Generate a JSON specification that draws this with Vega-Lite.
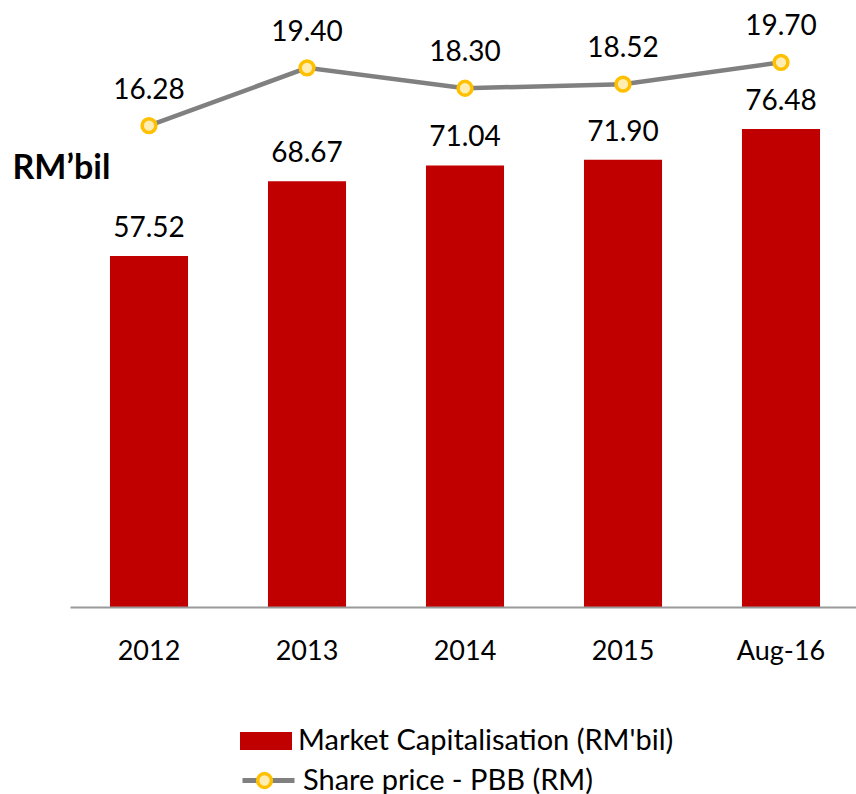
{
  "$schema": "https://vega.github.io/schema/vega-lite/v6.json",
  "width": 790,
  "height": 607,
  "autosize": {"type": "none"},
  "padding": {"left": 70, "top": 0, "right": 0, "bottom": 187},
  "background": "white",
  "config": {
    "view": {"stroke": null},
    "font": "Lato",
    "legend": {"labelFont": "Lato", "labelFontSize": 29, "labelColor": "#000000", "padding": 0, "labelOffset": 6, "titlePadding": 0, "labelLimit": 0}
  },
  "data": {
    "values": [
      {"period": "2012", "cap": 57.52, "price": 16.28},
      {"period": "2013", "cap": 68.67, "price": 19.40},
      {"period": "2014", "cap": 71.04, "price": 18.30},
      {"period": "2015", "cap": 71.90, "price": 18.52},
      {"period": "Aug-16", "cap": 76.48, "price": 19.70}
    ]
  },
  "encoding": {
    "x": {
      "field": "period",
      "type": "ordinal",
      "sort": null,
      "scale": {"paddingInner": 0.506, "paddingOuter": 0.253},
      "axis": {
        "title": null,
        "labelAngle": 0,
        "labelFont": "Lato",
        "labelFontSize": 27,
        "labelColor": "#000000",
        "labelBaseline": "alphabetic",
        "labelPadding": 52,
        "ticks": false,
        "tickSize": 0,
        "domainColor": "#999999",
        "domainWidth": 2,
        "grid": false,
        "zindex": 1
      }
    }
  },
  "layer": [
    {
      "mark": {"type": "bar", "clip": true},
      "encoding": {
        "y": {
          "field": "cap",
          "type": "quantitative",
          "scale": {"domain": [5.12, 95.74], "zero": false, "nice": false},
          "axis": {
            "orient": "left",
            "domain": false,
            "ticks": false,
            "labels": false,
            "grid": false,
            "title": "RM’bil",
            "titleAngle": 0,
            "titleAlign": "left",
            "titleBaseline": "alphabetic",
            "titleX": -58,
            "titleY": 178,
            "titleFont": "Lato",
            "titleFontSize": 34,
            "titleFontWeight": "bold",
            "titleColor": "#000000"
          }
        },
        "color": {
          "datum": "Market Capitalisation (RM'bil)",
          "scale": {"range": ["#C00000"]},
          "legend": {
            "orient": "none",
            "legendX": 170,
            "legendY": 715,
            "title": null,
            "symbolType": "M-1,-0.35H1V0.35H-1Z",
            "symbolSize": 2704,
            "symbolStrokeWidth": 0,
            "symbolOpacity": 1
          }
        }
      }
    },
    {
      "mark": {"type": "text", "dy": -19, "baseline": "alphabetic", "fontSize": 28, "color": "#000000", "font": "Lato"},
      "encoding": {
        "y": {
          "field": "cap",
          "type": "quantitative",
          "scale": {"domain": [5.12, 95.74], "zero": false, "nice": false},
          "axis": null
        },
        "text": {"field": "cap", "type": "quantitative", "format": ".2f"}
      }
    },
    {
      "mark": {"type": "line", "strokeWidth": 4.5},
      "encoding": {
        "y": {
          "field": "price",
          "type": "quantitative",
          "scale": {"domain": [-9.68, 23.06], "zero": false, "nice": false},
          "axis": null
        },
        "stroke": {
          "datum": "Share price - PBB (RM)",
          "scale": {"range": ["#808080"]},
          "legend": {
            "orient": "none",
            "legendX": 170,
            "legendY": 752,
            "title": null,
            "symbolType": "M-1,0H1",
            "symbolSize": 2704,
            "symbolStrokeWidth": 5,
            "symbolStrokeColor": "#808080"
          }
        }
      }
    },
    {
      "mark": {"type": "point", "shape": "circle", "filled": true, "fill": "#FFEDB3", "strokeWidth": 3.5, "size": 190, "opacity": 1, "fillOpacity": 1, "strokeOpacity": 1},
      "encoding": {
        "y": {
          "field": "price",
          "type": "quantitative",
          "scale": {"domain": [-9.68, 23.06], "zero": false, "nice": false},
          "axis": null
        },
        "stroke": {
          "datum": " ",
          "scale": {"range": ["#FFC000"]},
          "legend": {
            "orient": "none",
            "legendX": 180,
            "legendY": 766,
            "title": null,
            "symbolType": "circle",
            "symbolSize": 190,
            "symbolStrokeWidth": 3.5,
            "symbolFillColor": "#FFEDB3",
            "symbolOpacity": 1
          }
        }
      }
    },
    {
      "mark": {"type": "text", "dy": -27, "baseline": "alphabetic", "fontSize": 28, "color": "#000000", "font": "Lato"},
      "encoding": {
        "y": {
          "field": "price",
          "type": "quantitative",
          "scale": {"domain": [-9.68, 23.06], "zero": false, "nice": false},
          "axis": null
        },
        "text": {"field": "price", "type": "quantitative", "format": ".2f"}
      }
    }
  ],
  "resolve": {"scale": {"y": "independent", "stroke": "independent"}, "legend": {"stroke": "independent"}}
}
